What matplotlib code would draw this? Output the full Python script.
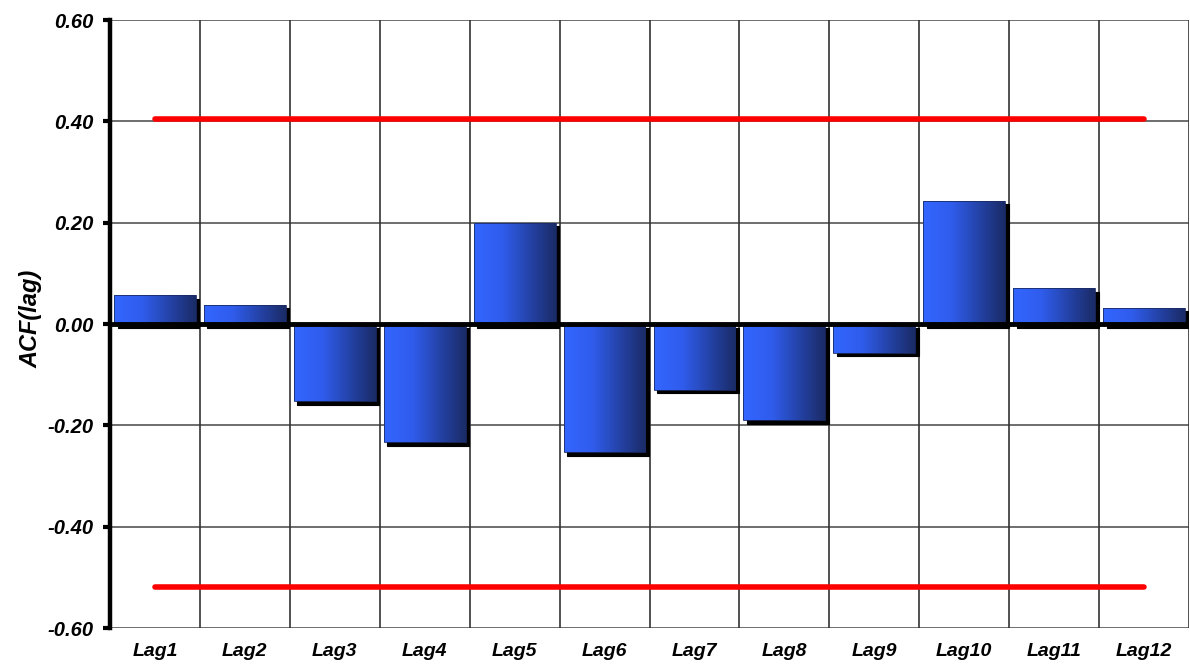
import numpy as np
import matplotlib
matplotlib.use("Agg")
import matplotlib.pyplot as plt
from matplotlib.patches import Rectangle
from matplotlib.transforms import ScaledTranslation
from matplotlib.colors import LinearSegmentedColormap

# Autocorrelation values per lag
lags = ["Lag1", "Lag2", "Lag3", "Lag4", "Lag5", "Lag6",
        "Lag7", "Lag8", "Lag9", "Lag10", "Lag11", "Lag12"]
acf = [0.057, 0.038, -0.152, -0.233, 0.200, -0.253,
       -0.130, -0.190, -0.057, 0.243, 0.071, 0.032]

# Confidence bounds
upper_bound = 0.405
lower_bound = -0.519

y_ticks = [-0.60, -0.40, -0.20, 0.00, 0.20, 0.40, 0.60]
y_label = "ACF(lag)"

plt.rcParams["font.family"] = ["Liberation Sans", "DejaVu Sans"]

fig = plt.figure(figsize=(11.9, 6.64), dpi=100)
ax = fig.add_axes([110 / 1190, 36 / 664, 1079 / 1190, 608 / 664])

x = np.arange(len(lags))
ax.set_xlim(-0.5, len(lags) - 0.5)
ax.set_ylim(y_ticks[0], y_ticks[-1])

# Grid: horizontal at each tick, vertical between categories
for yv in y_ticks:
    ax.axhline(yv, color="#555555", lw=1.2, zorder=0)
for xv in np.arange(-0.5, len(lags), 1.0):
    ax.axvline(xv, color="#333333", lw=1.2, zorder=0)

# Bars (invisible base, used for geometry)
bars = ax.bar(x, acf, width=0.91, color="none", edgecolor="none", zorder=3)

cmap = LinearSegmentedColormap.from_list(
    "bluefade", [(0.0, "#3366ff"), (0.35, "#2f5cec"), (1.0, "#1a2b66")])
grad = np.linspace(0, 1, 256).reshape(1, -1)
shadow_tr = ax.transData + ScaledTranslation(3.5 / 100, -3.5 / 100, fig.dpi_scale_trans)

for b in bars:
    x0, y0 = b.get_x(), b.get_y()
    w, h = b.get_width(), b.get_height()
    ax.add_patch(Rectangle((x0, y0), w, h, facecolor="black", edgecolor="black",
                           lw=0.8, transform=shadow_tr, zorder=2))
    ylo, yhi = sorted([y0, y0 + h])
    im = ax.imshow(grad, cmap=cmap, aspect="auto",
                   extent=(x0, x0 + w, ylo, yhi), zorder=3,
                   interpolation="bicubic")
    edge = Rectangle((x0, y0), w, h, facecolor="none", edgecolor="#1a2b66",
                     lw=0.6, zorder=3.5)
    ax.add_patch(edge)
    im.set_clip_path(edge)

ax.set_xlim(-0.5, len(lags) - 0.5)
ax.set_ylim(y_ticks[0], y_ticks[-1])

# Zero line
ax.axhline(0, color="black", lw=3.5, zorder=4)

# Confidence bounds between first and last lag centers
ax.plot([x[0], x[-1]], [upper_bound, upper_bound], color="#ff0000", lw=4,
        solid_capstyle="round", zorder=5)
ax.plot([x[0], x[-1]], [lower_bound, lower_bound], color="#ff0000", lw=4,
        solid_capstyle="round", zorder=5)

# Spines
for s in ["top", "right", "bottom"]:
    ax.spines[s].set_visible(False)
ax.spines["left"].set_linewidth(3.2)
ax.spines["left"].set_color("black")
ax.spines["left"].set_zorder(6)

ax.set_yticks(y_ticks)
ax.set_yticklabels([f"{v:.2f}" for v in y_ticks])
ax.tick_params(axis="y", length=5, width=3, pad=7, color="black")
ax.set_xticks(x)
ax.set_xticklabels(lags)
ax.tick_params(axis="x", length=0, pad=11)
for lbl in ax.get_yticklabels():
    lbl.set_fontsize(14.5)
    lbl.set_fontweight("bold")
    lbl.set_fontstyle("italic")
for lbl in ax.get_xticklabels():
    lbl.set_fontsize(14)
    lbl.set_fontweight("bold")
    lbl.set_fontstyle("italic")

ax.set_ylabel(y_label, fontsize=17, fontweight="bold", fontstyle="italic")
ax.yaxis.set_label_coords(-68 / 1079, 0.508)

fig.savefig("out.png", dpi=100, facecolor="white")
